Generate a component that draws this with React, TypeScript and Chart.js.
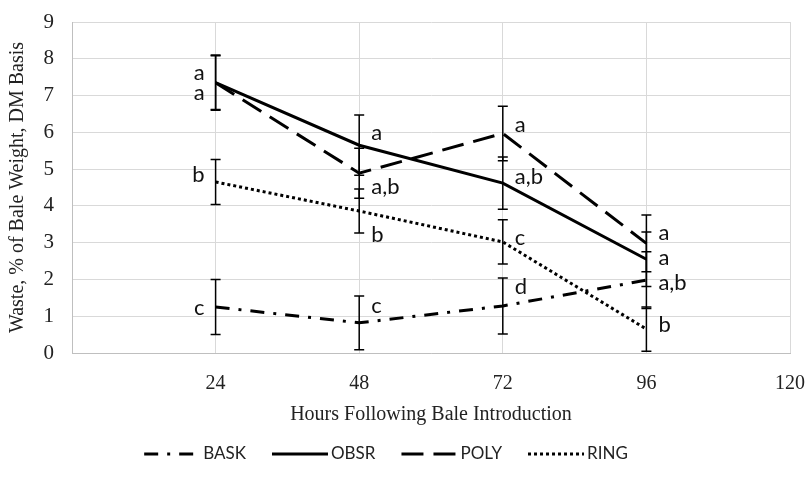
import { useEffect, useRef } from 'react';
import { Chart, registerables } from 'chart.js';

Chart.register(...registerables);

// ---- data ----
const hours = [24, 48, 72, 96];
const seriesNames = ['BASK', 'OBSR', 'POLY', 'RING'];
const baskValues = [1.25, 0.82, 1.28, 1.98];
const baskErrors = [0.75, 0.73, 0.76, 0.77];
const obsrValues = [7.35, 5.65, 4.62, 2.55];
const obsrErrors = [0.75, 0.82, 0.71, 0.74];
const polyValues = [7.35, 4.89, 5.97, 2.98];
const polyErrors = [0.73, 0.68, 0.74, 0.77];
const ringValues = [4.65, 3.86, 3.02, 0.65];
const ringErrors = [0.61, 0.6, 0.6, 0.6];

// significance letters (hour, value at which the letter sits, text)
const letterHours = [24, 24, 24, 24, 48, 48, 48, 48, 72, 72, 72, 72, 96, 96, 96, 96];
const letterValues = [7.61, 7.07, 4.84, 1.22, 5.98, 4.51, 3.21, 1.28, 6.2, 4.78, 3.13, 1.79, 3.26, 2.58, 1.9, 0.76];
const letterTexts = ['a', 'a', 'b', 'c', 'a', 'a,b', 'b', 'c', 'a', 'a,b', 'c', 'd', 'a', 'a', 'a,b', 'b'];

const xMin = 0;
const xMax = 120;
const xStep = 24;
const yMin = 0;
const yMax = 9;
const yStep = 1;

const xTitle = 'Hours Following Bale Introduction';
const yTitle = 'Waste, % of Bale Weight, DM Basis';

const allValues = [baskValues, obsrValues, polyValues, ringValues];
const allErrors = [baskErrors, obsrErrors, polyErrors, ringErrors];
const dashes = [[14, 9, 3, 9], [], [22, 10], [3, 3]];

const SERIF = "'Liberation Serif', 'Times New Roman', serif";
const SANS = "Lato, 'Open Sans', sans-serif";

const errorBarPlugin = {
  id: 'errorBars',
  afterDatasetsDraw(chart: any) {
    const { ctx, scales } = chart;
    const xs = scales.x;
    const ys = scales.y;
    ctx.save();
    ctx.strokeStyle = '#000';
    ctx.lineWidth = 1.5;
    ctx.setLineDash([]);
    chart.data.datasets.forEach((ds: any) => {
      const errs: number[] = ds.errors || [];
      ds.data.forEach((p: any, i: number) => {
        const e = errs[i];
        if (e == null) return;
        const x = xs.getPixelForValue(p.x);
        const yT = ys.getPixelForValue(p.y + e);
        const yB = ys.getPixelForValue(Math.max(yMin, p.y - e));
        ctx.beginPath();
        ctx.moveTo(x, yT);
        ctx.lineTo(x, yB);
        ctx.moveTo(x - 5, yT);
        ctx.lineTo(x + 5, yT);
        ctx.moveTo(x - 5, yB);
        ctx.lineTo(x + 5, yB);
        ctx.stroke();
      });
    });
    ctx.restore();
  },
};

const lettersPlugin = {
  id: 'letters',
  afterDraw(chart: any) {
    const { ctx, scales } = chart;
    ctx.save();
    ctx.fillStyle = '#111';
    ctx.font = `22px ${SANS}`;
    ctx.textBaseline = 'middle';
    letterTexts.forEach((t, i) => {
      const h = letterHours[i];
      const x = scales.x.getPixelForValue(h);
      const y = scales.y.getPixelForValue(letterValues[i]);
      if (h === hours[0]) {
        ctx.textAlign = 'right';
        ctx.fillText(t, x - 11, y);
      } else {
        ctx.textAlign = 'left';
        ctx.fillText(t, x + 12, y);
      }
    });
    ctx.restore();
  },
};

const customLegendPlugin = {
  id: 'customLegend',
  afterDraw(chart: any) {
    const { ctx } = chart;
    const sample = 56;
    const gapText = 3;
    const gapItem = 26;
    const y = 454;
    ctx.save();
    ctx.font = `17px ${SANS}`;
    ctx.textBaseline = 'middle';
    ctx.textAlign = 'left';
    const widths = chart.data.datasets.map((ds: any) => ctx.measureText(ds.label).width);
    const total = widths.reduce((a: number, w: number) => a + sample + gapText + w, 0) + gapItem * (widths.length - 1);
    let x = 386 - total / 2;
    chart.data.datasets.forEach((ds: any, i: number) => {
      ctx.strokeStyle = '#000';
      ctx.lineWidth = ds.borderWidth;
      ctx.lineCap = 'butt';
      ctx.setLineDash(ds.borderDash || []);
      ctx.beginPath();
      ctx.moveTo(x, y);
      ctx.lineTo(x + sample, y);
      ctx.stroke();
      ctx.setLineDash([]);
      ctx.fillStyle = '#222';
      ctx.fillText(ds.label, x + sample + gapText, y);
      x += sample + gapText + widths[i] + gapItem;
    });
    ctx.restore();
  },
};

export default function App() {
  const canvasRef = useRef<HTMLCanvasElement | null>(null);

  useEffect(() => {
    document.body.style.margin = '0';
    const canvas = canvasRef.current;
    if (!canvas) return;
    const datasets = seriesNames.map((name, s) => ({
      label: name,
      data: hours.map((h, i) => ({ x: h, y: allValues[s][i] })),
      errors: allErrors[s],
      borderColor: '#000',
      backgroundColor: '#000',
      borderWidth: 3,
      borderDash: dashes[s],
      pointRadius: 0,
      pointHoverRadius: 0,
      tension: 0,
      fill: false,
    }));
    const chart = new Chart(canvas, {
      type: 'line',
      data: { datasets } as any,
      options: {
        responsive: false,
        animation: false,
        layout: { padding: { top: 22, right: 21, left: 0, bottom: 0 } },
        plugins: {
          legend: { display: false },
          tooltip: { enabled: false },
        },
        scales: {
          x: {
            type: 'linear',
            min: xMin,
            max: xMax,
            ticks: {
              stepSize: xStep,
              color: '#222',
              font: { family: SERIF, size: 20 },
              padding: 19,
              maxRotation: 0,
              callback: (v: any) => (v === xMin ? '' : String(v)),
            },
            grid: { color: '#d9d9d9', lineWidth: 1, drawTicks: false },
            border: { color: '#bfbfbf', width: 1 },
            title: {
              display: true,
              text: xTitle,
              color: '#222',
              font: { family: SERIF, size: 20 },
              padding: { top: 0, bottom: 60 },
            },
            afterFit: (scale: any) => {
              scale.height = 134;
              scale.paddingLeft = 0;
              scale.paddingRight = 0;
            },
          },
          y: {
            type: 'linear',
            min: yMin,
            max: yMax,
            ticks: {
              stepSize: yStep,
              color: '#222',
              font: { family: SERIF, size: 21 },
              padding: 18,
            },
            grid: { color: '#d9d9d9', lineWidth: 1, drawTicks: false },
            border: { color: '#bfbfbf', width: 1 },
            title: {
              display: true,
              text: yTitle,
              color: '#222',
              font: { family: SERIF, size: 20 },
              padding: { top: 6, bottom: 0 },
            },
            afterFit: (scale: any) => {
              scale.width = 72;
              scale.paddingTop = 0;
              scale.paddingBottom = 0;
            },
          },
        },
      } as any,
      plugins: [errorBarPlugin, lettersPlugin, customLegendPlugin],
    });
    return () => chart.destroy();
  }, []);

  return (
    <div style={{ width: 811, height: 487, background: '#fff' }}>
      <canvas ref={canvasRef} width={811} height={487} style={{ display: 'block' }} />
    </div>
  );
}
